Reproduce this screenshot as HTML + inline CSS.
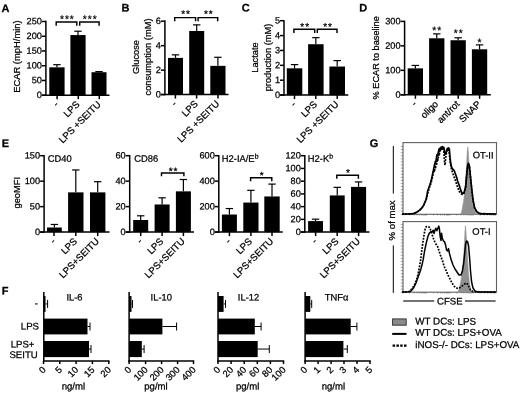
<!DOCTYPE html>
<html><head><meta charset="utf-8"><title>Figure</title>
<style>
html,body{margin:0;padding:0;background:#fff;}
body{width:520px;height:393px;overflow:hidden;}
svg{display:block;filter:grayscale(1);font-family:"Liberation Sans",sans-serif;fill:#000;}
text{stroke:#000;stroke-width:0.25px;}
</style></head><body>
<svg width="520" height="393" viewBox="0 0 520 393">
<rect x="0" y="0" width="520" height="393" fill="#fff"/>
<text x="1.5" y="12" font-size="11" text-anchor="start" transform="translate(1.5 12) rotate(0.05) scale(1 1) translate(-1.5 -12)" font-weight="bold">A</text>
<text x="121.5" y="11.5" font-size="11" text-anchor="start" transform="translate(121.5 11.5) rotate(0.05) scale(1 1) translate(-121.5 -11.5)" font-weight="bold">B</text>
<text x="241.8" y="11.5" font-size="11" text-anchor="start" transform="translate(241.8 11.5) rotate(0.05) scale(1 1) translate(-241.8 -11.5)" font-weight="bold">C</text>
<text x="359.3" y="11.5" font-size="11" text-anchor="start" transform="translate(359.3 11.5) rotate(0.05) scale(1 1) translate(-359.3 -11.5)" font-weight="bold">D</text>
<text x="1.8" y="146.9" font-size="11" text-anchor="start" transform="translate(1.8 146.9) rotate(0.05) scale(1 1) translate(-1.8 -146.9)" font-weight="bold">E</text>
<text x="1.8" y="294.6" font-size="11" text-anchor="start" transform="translate(1.8 294.6) rotate(0.05) scale(1 1) translate(-1.8 -294.6)" font-weight="bold">F</text>
<text x="369.7" y="146.9" font-size="11" text-anchor="start" transform="translate(369.7 146.9) rotate(0.05) scale(1 1) translate(-369.7 -146.9)" font-weight="bold">G</text>
<rect x="49.3" y="67.3414" width="15.3" height="27.8586" fill="#000"/>
<line x1="56.95" y1="67.3414" x2="56.95" y2="64.6882" stroke="#000" stroke-width="1.2"/>
<line x1="53.25" y1="64.6882" x2="60.65" y2="64.6882" stroke="#000" stroke-width="1.2"/>
<rect x="70.4" y="35.0608" width="15.2" height="60.1392" fill="#000"/>
<line x1="78" y1="35.0608" x2="78" y2="31.2284" stroke="#000" stroke-width="1.2"/>
<line x1="74.3" y1="31.2284" x2="81.7" y2="31.2284" stroke="#000" stroke-width="1.2"/>
<rect x="91.5" y="72.2056" width="15" height="22.9944" fill="#000"/>
<line x1="99" y1="72.2056" x2="99" y2="71.616" stroke="#000" stroke-width="1.2"/>
<line x1="95.3" y1="71.616" x2="102.7" y2="71.616" stroke="#000" stroke-width="1.2"/>
<line x1="45.9" y1="20.75" x2="45.9" y2="95.95" stroke="#000" stroke-width="1.5"/>
<line x1="41.9" y1="95.2" x2="109.5" y2="95.2" stroke="#000" stroke-width="1.5"/>
<line x1="41.9" y1="21.5" x2="45.9" y2="21.5" stroke="#000" stroke-width="1.5"/>
<text x="41.9" y="24.352" font-size="9.2" text-anchor="end" transform="translate(41.9 24.352) rotate(0.05) scale(1 1) translate(-41.9 -24.352)">250</text>
<line x1="41.9" y1="36.24" x2="45.9" y2="36.24" stroke="#000" stroke-width="1.5"/>
<text x="41.9" y="39.092" font-size="9.2" text-anchor="end" transform="translate(41.9 39.092) rotate(0.05) scale(1 1) translate(-41.9 -39.092)">200</text>
<line x1="41.9" y1="50.98" x2="45.9" y2="50.98" stroke="#000" stroke-width="1.5"/>
<text x="41.9" y="53.832" font-size="9.2" text-anchor="end" transform="translate(41.9 53.832) rotate(0.05) scale(1 1) translate(-41.9 -53.832)">150</text>
<line x1="41.9" y1="65.72" x2="45.9" y2="65.72" stroke="#000" stroke-width="1.5"/>
<text x="41.9" y="68.572" font-size="9.2" text-anchor="end" transform="translate(41.9 68.572) rotate(0.05) scale(1 1) translate(-41.9 -68.572)">100</text>
<line x1="41.9" y1="80.46" x2="45.9" y2="80.46" stroke="#000" stroke-width="1.5"/>
<text x="41.9" y="83.312" font-size="9.2" text-anchor="end" transform="translate(41.9 83.312) rotate(0.05) scale(1 1) translate(-41.9 -83.312)">50</text>
<line x1="41.9" y1="95.2" x2="45.9" y2="95.2" stroke="#000" stroke-width="1.5"/>
<text x="41.9" y="98.052" font-size="9.2" text-anchor="end" transform="translate(41.9 98.052) rotate(0.05) scale(1 1) translate(-41.9 -98.052)">0</text>
<line x1="57.1" y1="95.2" x2="57.1" y2="99.2" stroke="#000" stroke-width="1.5"/>
<line x1="78.3" y1="95.2" x2="78.3" y2="99.2" stroke="#000" stroke-width="1.5"/>
<line x1="99.3" y1="95.2" x2="99.3" y2="99.2" stroke="#000" stroke-width="1.5"/>
<text x="59.1" y="105" font-size="9.6" text-anchor="end" transform="translate(59.1 105) rotate(-45) scale(1 1) translate(-59.1 -105)">-</text>
<text x="80.3" y="105" font-size="9.6" text-anchor="end" transform="translate(80.3 105) rotate(-45) scale(1 1) translate(-80.3 -105)">LPS</text>
<text x="101.3" y="105" font-size="9.6" text-anchor="end" transform="translate(101.3 105) rotate(-45) scale(1 1) translate(-101.3 -105)">LPS +SEITU</text>
<polyline points="56.2,25.8 56.2,22 76.8,22 76.8,25.8" fill="none" stroke="#000" stroke-width="1.45"/>
<text x="67.4" y="22.4" font-size="10.2" text-anchor="middle" transform="translate(67.4 22.4) rotate(0.05) scale(1 1) translate(-67.4 -22.4)" letter-spacing="1.0">***</text>
<polyline points="79.7,25.8 79.7,22 99.1,22 99.1,25.8" fill="none" stroke="#000" stroke-width="1.45"/>
<text x="90.3" y="22.4" font-size="10.2" text-anchor="middle" transform="translate(90.3 22.4) rotate(0.05) scale(1 1) translate(-90.3 -22.4)" letter-spacing="1.0">***</text>
<text x="20.3" y="56.6" font-size="9.4" text-anchor="middle" transform="translate(20.3 56.6) rotate(-90) scale(1 1) translate(-20.3 -56.6)">ECAR (mpH/min)</text>
<rect x="168" y="57.9" width="15" height="36.7" fill="#000"/>
<line x1="175.5" y1="57.9" x2="175.5" y2="54.8417" stroke="#000" stroke-width="1.2"/>
<line x1="171.8" y1="54.8417" x2="179.2" y2="54.8417" stroke="#000" stroke-width="1.2"/>
<rect x="189.2" y="30.9867" width="15" height="63.6133" fill="#000"/>
<line x1="196.7" y1="30.9867" x2="196.7" y2="24.87" stroke="#000" stroke-width="1.2"/>
<line x1="193" y1="24.87" x2="200.4" y2="24.87" stroke="#000" stroke-width="1.2"/>
<rect x="210.3" y="65.8517" width="15.2" height="28.7483" fill="#000"/>
<line x1="217.9" y1="65.8517" x2="217.9" y2="57.2883" stroke="#000" stroke-width="1.2"/>
<line x1="214.2" y1="57.2883" x2="221.6" y2="57.2883" stroke="#000" stroke-width="1.2"/>
<line x1="164.9" y1="20.25" x2="164.9" y2="95.35" stroke="#000" stroke-width="1.5"/>
<line x1="160.9" y1="94.6" x2="228.5" y2="94.6" stroke="#000" stroke-width="1.5"/>
<line x1="160.9" y1="21.2" x2="164.9" y2="21.2" stroke="#000" stroke-width="1.5"/>
<text x="160.9" y="24.052" font-size="9.2" text-anchor="end" transform="translate(160.9 24.052) rotate(0.05) scale(1 1) translate(-160.9 -24.052)">6</text>
<line x1="160.9" y1="45.6667" x2="164.9" y2="45.6667" stroke="#000" stroke-width="1.5"/>
<text x="160.9" y="48.5187" font-size="9.2" text-anchor="end" transform="translate(160.9 48.5187) rotate(0.05) scale(1 1) translate(-160.9 -48.5187)">4</text>
<line x1="160.9" y1="70.1333" x2="164.9" y2="70.1333" stroke="#000" stroke-width="1.5"/>
<text x="160.9" y="72.9853" font-size="9.2" text-anchor="end" transform="translate(160.9 72.9853) rotate(0.05) scale(1 1) translate(-160.9 -72.9853)">2</text>
<line x1="160.9" y1="94.6" x2="164.9" y2="94.6" stroke="#000" stroke-width="1.5"/>
<text x="160.9" y="97.452" font-size="9.2" text-anchor="end" transform="translate(160.9 97.452) rotate(0.05) scale(1 1) translate(-160.9 -97.452)">0</text>
<line x1="175.4" y1="94.6" x2="175.4" y2="98.6" stroke="#000" stroke-width="1.5"/>
<line x1="196.6" y1="94.6" x2="196.6" y2="98.6" stroke="#000" stroke-width="1.5"/>
<line x1="218" y1="94.6" x2="218" y2="98.6" stroke="#000" stroke-width="1.5"/>
<text x="177.4" y="104.4" font-size="9.6" text-anchor="end" transform="translate(177.4 104.4) rotate(-45) scale(1 1) translate(-177.4 -104.4)">-</text>
<text x="198.6" y="104.4" font-size="9.6" text-anchor="end" transform="translate(198.6 104.4) rotate(-45) scale(1 1) translate(-198.6 -104.4)">LPS</text>
<text x="220" y="104.4" font-size="9.6" text-anchor="end" transform="translate(220 104.4) rotate(-45) scale(1 1) translate(-220 -104.4)">LPS +SEITU</text>
<polyline points="174.7,21.2 174.7,17.6 195.6,17.6 195.6,21.2" fill="none" stroke="#000" stroke-width="1.45"/>
<text x="186.05" y="17.3" font-size="10" text-anchor="middle" transform="translate(186.05 17.3) rotate(0.05) scale(1 1) translate(-186.05 -17.3)" letter-spacing="1.0">**</text>
<polyline points="198.1,21.2 198.1,17.6 217.7,17.6 217.7,21.2" fill="none" stroke="#000" stroke-width="1.45"/>
<text x="208.8" y="17.3" font-size="10" text-anchor="middle" transform="translate(208.8 17.3) rotate(0.05) scale(1 1) translate(-208.8 -17.3)" letter-spacing="1.0">**</text>
<text x="138.8" y="57" font-size="9.3" text-anchor="middle" transform="translate(138.8 57) rotate(-90) scale(1 1) translate(-138.8 -57)">Glucose</text>
<text x="151.4" y="57" font-size="9.3" text-anchor="middle" transform="translate(151.4 57) rotate(-90) scale(1 1) translate(-151.4 -57)">consumption (mM)</text>
<rect x="286.8" y="68.316" width="15.5" height="26.784" fill="#000"/>
<line x1="294.55" y1="68.316" x2="294.55" y2="64.596" stroke="#000" stroke-width="1.2"/>
<line x1="290.85" y1="64.596" x2="298.25" y2="64.596" stroke="#000" stroke-width="1.2"/>
<rect x="308.1" y="44.2104" width="15.5" height="50.8896" fill="#000"/>
<line x1="315.85" y1="44.2104" x2="315.85" y2="37.6632" stroke="#000" stroke-width="1.2"/>
<line x1="312.15" y1="37.6632" x2="319.55" y2="37.6632" stroke="#000" stroke-width="1.2"/>
<rect x="329.4" y="66.5304" width="15.6" height="28.5696" fill="#000"/>
<line x1="337.2" y1="66.5304" x2="337.2" y2="60.5784" stroke="#000" stroke-width="1.2"/>
<line x1="333.5" y1="60.5784" x2="340.9" y2="60.5784" stroke="#000" stroke-width="1.2"/>
<line x1="284" y1="20.15" x2="284" y2="95.85" stroke="#000" stroke-width="1.5"/>
<line x1="280" y1="95.1" x2="348.3" y2="95.1" stroke="#000" stroke-width="1.5"/>
<line x1="280" y1="20.7" x2="284" y2="20.7" stroke="#000" stroke-width="1.5"/>
<text x="280" y="23.552" font-size="9.2" text-anchor="end" transform="translate(280 23.552) rotate(0.05) scale(1 1) translate(-280 -23.552)">5</text>
<line x1="280" y1="35.58" x2="284" y2="35.58" stroke="#000" stroke-width="1.5"/>
<text x="280" y="38.432" font-size="9.2" text-anchor="end" transform="translate(280 38.432) rotate(0.05) scale(1 1) translate(-280 -38.432)">4</text>
<line x1="280" y1="50.46" x2="284" y2="50.46" stroke="#000" stroke-width="1.5"/>
<text x="280" y="53.312" font-size="9.2" text-anchor="end" transform="translate(280 53.312) rotate(0.05) scale(1 1) translate(-280 -53.312)">3</text>
<line x1="280" y1="65.34" x2="284" y2="65.34" stroke="#000" stroke-width="1.5"/>
<text x="280" y="68.192" font-size="9.2" text-anchor="end" transform="translate(280 68.192) rotate(0.05) scale(1 1) translate(-280 -68.192)">2</text>
<line x1="280" y1="80.22" x2="284" y2="80.22" stroke="#000" stroke-width="1.5"/>
<text x="280" y="83.072" font-size="9.2" text-anchor="end" transform="translate(280 83.072) rotate(0.05) scale(1 1) translate(-280 -83.072)">1</text>
<line x1="280" y1="95.1" x2="284" y2="95.1" stroke="#000" stroke-width="1.5"/>
<text x="280" y="97.952" font-size="9.2" text-anchor="end" transform="translate(280 97.952) rotate(0.05) scale(1 1) translate(-280 -97.952)">0</text>
<line x1="294.5" y1="95.1" x2="294.5" y2="99.1" stroke="#000" stroke-width="1.5"/>
<line x1="315.8" y1="95.1" x2="315.8" y2="99.1" stroke="#000" stroke-width="1.5"/>
<line x1="337.2" y1="95.1" x2="337.2" y2="99.1" stroke="#000" stroke-width="1.5"/>
<text x="296.5" y="104.9" font-size="9.6" text-anchor="end" transform="translate(296.5 104.9) rotate(-45) scale(1 1) translate(-296.5 -104.9)">-</text>
<text x="317.8" y="104.9" font-size="9.6" text-anchor="end" transform="translate(317.8 104.9) rotate(-45) scale(1 1) translate(-317.8 -104.9)">LPS</text>
<text x="339.2" y="104.9" font-size="9.6" text-anchor="end" transform="translate(339.2 104.9) rotate(-45) scale(1 1) translate(-339.2 -104.9)">LPS +SEITU</text>
<polyline points="293.9,33 293.9,29.3 314.7,29.3 314.7,33" fill="none" stroke="#000" stroke-width="1.45"/>
<text x="305.2" y="30.1" font-size="10" text-anchor="middle" transform="translate(305.2 30.1) rotate(0.05) scale(1 1) translate(-305.2 -30.1)" letter-spacing="1.0">**</text>
<polyline points="317.3,33 317.3,29.3 337,29.3 337,33" fill="none" stroke="#000" stroke-width="1.45"/>
<text x="328.05" y="30.1" font-size="10" text-anchor="middle" transform="translate(328.05 30.1) rotate(0.05) scale(1 1) translate(-328.05 -30.1)" letter-spacing="1.0">**</text>
<text x="258.4" y="57.5" font-size="9.3" text-anchor="middle" transform="translate(258.4 57.5) rotate(-90) scale(1 1) translate(-258.4 -57.5)">Lactate</text>
<text x="270.6" y="57.5" font-size="9.3" text-anchor="middle" transform="translate(270.6 57.5) rotate(-90) scale(1 1) translate(-270.6 -57.5)">production (mM)</text>
<rect x="407.7" y="68.376" width="15.3" height="26.424" fill="#000"/>
<line x1="415.35" y1="68.376" x2="415.35" y2="65.44" stroke="#000" stroke-width="1.2"/>
<line x1="411.65" y1="65.44" x2="419.05" y2="65.44" stroke="#000" stroke-width="1.2"/>
<rect x="429.1" y="38.282" width="15.3" height="56.518" fill="#000"/>
<line x1="436.75" y1="38.282" x2="436.75" y2="33.878" stroke="#000" stroke-width="1.2"/>
<line x1="433.05" y1="33.878" x2="440.45" y2="33.878" stroke="#000" stroke-width="1.2"/>
<rect x="450.5" y="40.2393" width="15.3" height="54.5607" fill="#000"/>
<line x1="458.15" y1="40.2393" x2="458.15" y2="37.7927" stroke="#000" stroke-width="1.2"/>
<line x1="454.45" y1="37.7927" x2="461.85" y2="37.7927" stroke="#000" stroke-width="1.2"/>
<rect x="471.9" y="49.292" width="15.3" height="45.508" fill="#000"/>
<line x1="479.55" y1="49.292" x2="479.55" y2="44.888" stroke="#000" stroke-width="1.2"/>
<line x1="475.85" y1="44.888" x2="483.25" y2="44.888" stroke="#000" stroke-width="1.2"/>
<line x1="404.6" y1="20.65" x2="404.6" y2="95.55" stroke="#000" stroke-width="1.5"/>
<line x1="400.6" y1="94.8" x2="490.8" y2="94.8" stroke="#000" stroke-width="1.5"/>
<line x1="400.6" y1="21.4" x2="404.6" y2="21.4" stroke="#000" stroke-width="1.5"/>
<text x="400.6" y="24.252" font-size="9.2" text-anchor="end" transform="translate(400.6 24.252) rotate(0.05) scale(1 1) translate(-400.6 -24.252)">300</text>
<line x1="400.6" y1="45.8667" x2="404.6" y2="45.8667" stroke="#000" stroke-width="1.5"/>
<text x="400.6" y="48.7187" font-size="9.2" text-anchor="end" transform="translate(400.6 48.7187) rotate(0.05) scale(1 1) translate(-400.6 -48.7187)">200</text>
<line x1="400.6" y1="70.3333" x2="404.6" y2="70.3333" stroke="#000" stroke-width="1.5"/>
<text x="400.6" y="73.1853" font-size="9.2" text-anchor="end" transform="translate(400.6 73.1853) rotate(0.05) scale(1 1) translate(-400.6 -73.1853)">100</text>
<line x1="400.6" y1="94.8" x2="404.6" y2="94.8" stroke="#000" stroke-width="1.5"/>
<text x="400.6" y="97.652" font-size="9.2" text-anchor="end" transform="translate(400.6 97.652) rotate(0.05) scale(1 1) translate(-400.6 -97.652)">0</text>
<line x1="415.4" y1="94.8" x2="415.4" y2="98.8" stroke="#000" stroke-width="1.5"/>
<line x1="436.8" y1="94.8" x2="436.8" y2="98.8" stroke="#000" stroke-width="1.5"/>
<line x1="458.2" y1="94.8" x2="458.2" y2="98.8" stroke="#000" stroke-width="1.5"/>
<line x1="479.6" y1="94.8" x2="479.6" y2="98.8" stroke="#000" stroke-width="1.5"/>
<text x="417.4" y="104.6" font-size="9.6" text-anchor="end" transform="translate(417.4 104.6) rotate(-45) scale(1 1) translate(-417.4 -104.6)">-</text>
<text x="438.8" y="104.6" font-size="9.6" text-anchor="end" transform="translate(438.8 104.6) rotate(-45) scale(1 1) translate(-438.8 -104.6)">oligo</text>
<text x="460.2" y="104.6" font-size="9.6" text-anchor="end" transform="translate(460.2 104.6) rotate(-45) scale(1 1) translate(-460.2 -104.6)">ant/rot</text>
<text x="481.6" y="104.6" font-size="9.6" text-anchor="end" transform="translate(481.6 104.6) rotate(-45) scale(1 1) translate(-481.6 -104.6)">SNAP</text>
<text x="437.3" y="33.8" font-size="10.2" text-anchor="middle" transform="translate(437.3 33.8) rotate(0.05) scale(1 1) translate(-437.3 -33.8)" letter-spacing="1.0">**</text>
<text x="458.7" y="36.6" font-size="10.2" text-anchor="middle" transform="translate(458.7 36.6) rotate(0.05) scale(1 1) translate(-458.7 -36.6)" letter-spacing="1.0">**</text>
<text x="479.6" y="45.8" font-size="10.2" text-anchor="middle" transform="translate(479.6 45.8) rotate(0.05) scale(1 1) translate(-479.6 -45.8)">*</text>
<text x="379.3" y="57.8" font-size="9.2" text-anchor="middle" transform="translate(379.3 57.8) rotate(-90) scale(1 1) translate(-379.3 -57.8)">% ECAR to baseline</text>
<rect x="47" y="227.516" width="14.8" height="4.584" fill="#000"/>
<line x1="54.4" y1="227.516" x2="54.4" y2="224.46" stroke="#000" stroke-width="1.2"/>
<line x1="50.7" y1="224.46" x2="58.1" y2="224.46" stroke="#000" stroke-width="1.2"/>
<rect x="68.1" y="192.372" width="15.4" height="39.728" fill="#000"/>
<line x1="75.8" y1="192.372" x2="75.8" y2="169.961" stroke="#000" stroke-width="1.2"/>
<line x1="72.1" y1="169.961" x2="79.5" y2="169.961" stroke="#000" stroke-width="1.2"/>
<rect x="90" y="192.372" width="15.4" height="39.728" fill="#000"/>
<line x1="97.7" y1="192.372" x2="97.7" y2="181.676" stroke="#000" stroke-width="1.2"/>
<line x1="94" y1="181.676" x2="101.4" y2="181.676" stroke="#000" stroke-width="1.2"/>
<line x1="44.1" y1="154.95" x2="44.1" y2="232.85" stroke="#000" stroke-width="1.5"/>
<line x1="40.1" y1="232.1" x2="109.5" y2="232.1" stroke="#000" stroke-width="1.5"/>
<line x1="40.1" y1="155.7" x2="44.1" y2="155.7" stroke="#000" stroke-width="1.5"/>
<text x="40.1" y="158.552" font-size="9.2" text-anchor="end" transform="translate(40.1 158.552) rotate(0.05) scale(1 1) translate(-40.1 -158.552)">150</text>
<line x1="40.1" y1="181.167" x2="44.1" y2="181.167" stroke="#000" stroke-width="1.5"/>
<text x="40.1" y="184.019" font-size="9.2" text-anchor="end" transform="translate(40.1 184.019) rotate(0.05) scale(1 1) translate(-40.1 -184.019)">100</text>
<line x1="40.1" y1="206.633" x2="44.1" y2="206.633" stroke="#000" stroke-width="1.5"/>
<text x="40.1" y="209.485" font-size="9.2" text-anchor="end" transform="translate(40.1 209.485) rotate(0.05) scale(1 1) translate(-40.1 -209.485)">50</text>
<line x1="40.1" y1="232.1" x2="44.1" y2="232.1" stroke="#000" stroke-width="1.5"/>
<text x="40.1" y="234.952" font-size="9.2" text-anchor="end" transform="translate(40.1 234.952) rotate(0.05) scale(1 1) translate(-40.1 -234.952)">0</text>
<line x1="54" y1="232.1" x2="54" y2="236.1" stroke="#000" stroke-width="1.5"/>
<line x1="75.8" y1="232.1" x2="75.8" y2="236.1" stroke="#000" stroke-width="1.5"/>
<line x1="97.7" y1="232.1" x2="97.7" y2="236.1" stroke="#000" stroke-width="1.5"/>
<text x="56" y="241.9" font-size="9.6" text-anchor="end" transform="translate(56 241.9) rotate(-45) scale(1 1) translate(-56 -241.9)">-</text>
<text x="77.8" y="241.9" font-size="9.6" text-anchor="end" transform="translate(77.8 241.9) rotate(-45) scale(1 1) translate(-77.8 -241.9)">LPS</text>
<text x="99.7" y="241.9" font-size="9.6" text-anchor="end" transform="translate(99.7 241.9) rotate(-45) scale(1 1) translate(-99.7 -241.9)">LPS+SEITU</text>
<text x="47.8" y="161.8" font-size="9.4" text-anchor="start" transform="translate(47.8 161.8) rotate(0.05) scale(1 1) translate(-47.8 -161.8)">CD40</text>
<text x="20.2" y="192.7" font-size="9.3" text-anchor="middle" transform="translate(20.2 192.7) rotate(-90) scale(1 1) translate(-20.2 -192.7)">geoMFI</text>
<rect x="133.2" y="220.003" width="15" height="12.0967" fill="#000"/>
<line x1="140.7" y1="220.003" x2="140.7" y2="215.801" stroke="#000" stroke-width="1.2"/>
<line x1="137" y1="215.801" x2="144.4" y2="215.801" stroke="#000" stroke-width="1.2"/>
<rect x="154.6" y="204.469" width="15" height="27.6313" fill="#000"/>
<line x1="162.1" y1="204.469" x2="162.1" y2="197.847" stroke="#000" stroke-width="1.2"/>
<line x1="158.4" y1="197.847" x2="165.8" y2="197.847" stroke="#000" stroke-width="1.2"/>
<rect x="175.9" y="191.353" width="15" height="40.7467" fill="#000"/>
<line x1="183.4" y1="191.353" x2="183.4" y2="179.511" stroke="#000" stroke-width="1.2"/>
<line x1="179.7" y1="179.511" x2="187.1" y2="179.511" stroke="#000" stroke-width="1.2"/>
<line x1="129.7" y1="154.95" x2="129.7" y2="232.85" stroke="#000" stroke-width="1.5"/>
<line x1="125.7" y1="232.1" x2="194" y2="232.1" stroke="#000" stroke-width="1.5"/>
<line x1="125.7" y1="155.7" x2="129.7" y2="155.7" stroke="#000" stroke-width="1.5"/>
<text x="125.7" y="158.552" font-size="9.2" text-anchor="end" transform="translate(125.7 158.552) rotate(0.05) scale(1 1) translate(-125.7 -158.552)">60</text>
<line x1="125.7" y1="181.167" x2="129.7" y2="181.167" stroke="#000" stroke-width="1.5"/>
<text x="125.7" y="184.019" font-size="9.2" text-anchor="end" transform="translate(125.7 184.019) rotate(0.05) scale(1 1) translate(-125.7 -184.019)">40</text>
<line x1="125.7" y1="206.633" x2="129.7" y2="206.633" stroke="#000" stroke-width="1.5"/>
<text x="125.7" y="209.485" font-size="9.2" text-anchor="end" transform="translate(125.7 209.485) rotate(0.05) scale(1 1) translate(-125.7 -209.485)">20</text>
<line x1="125.7" y1="232.1" x2="129.7" y2="232.1" stroke="#000" stroke-width="1.5"/>
<text x="125.7" y="234.952" font-size="9.2" text-anchor="end" transform="translate(125.7 234.952) rotate(0.05) scale(1 1) translate(-125.7 -234.952)">0</text>
<line x1="140.7" y1="232.1" x2="140.7" y2="236.1" stroke="#000" stroke-width="1.5"/>
<line x1="162.1" y1="232.1" x2="162.1" y2="236.1" stroke="#000" stroke-width="1.5"/>
<line x1="183.4" y1="232.1" x2="183.4" y2="236.1" stroke="#000" stroke-width="1.5"/>
<text x="142.7" y="241.9" font-size="9.6" text-anchor="end" transform="translate(142.7 241.9) rotate(-45) scale(1 1) translate(-142.7 -241.9)">-</text>
<text x="164.1" y="241.9" font-size="9.6" text-anchor="end" transform="translate(164.1 241.9) rotate(-45) scale(1 1) translate(-164.1 -241.9)">LPS</text>
<text x="185.4" y="241.9" font-size="9.6" text-anchor="end" transform="translate(185.4 241.9) rotate(-45) scale(1 1) translate(-185.4 -241.9)">LPS+SEITU</text>
<text x="134.2" y="161.8" font-size="9.4" text-anchor="start" transform="translate(134.2 161.8) rotate(0.05) scale(1 1) translate(-134.2 -161.8)">CD86</text>
<polyline points="161.5,176.3 161.5,173 183.9,173 183.9,176.3" fill="none" stroke="#000" stroke-width="1.45"/>
<text x="173.6" y="174.5" font-size="10" text-anchor="middle" transform="translate(173.6 174.5) rotate(0.05) scale(1 1) translate(-173.6 -174.5)" letter-spacing="1.0">**</text>
<rect x="221.9" y="214.528" width="15" height="17.572" fill="#000"/>
<line x1="229.4" y1="214.528" x2="229.4" y2="208.543" stroke="#000" stroke-width="1.2"/>
<line x1="225.7" y1="208.543" x2="233.1" y2="208.543" stroke="#000" stroke-width="1.2"/>
<rect x="243.3" y="202.559" width="15.2" height="29.5413" fill="#000"/>
<line x1="250.9" y1="202.559" x2="250.9" y2="190.335" stroke="#000" stroke-width="1.2"/>
<line x1="247.2" y1="190.335" x2="254.6" y2="190.335" stroke="#000" stroke-width="1.2"/>
<rect x="264.3" y="196.447" width="15.4" height="35.6533" fill="#000"/>
<line x1="272" y1="196.447" x2="272" y2="184.095" stroke="#000" stroke-width="1.2"/>
<line x1="268.3" y1="184.095" x2="275.7" y2="184.095" stroke="#000" stroke-width="1.2"/>
<line x1="218.8" y1="154.95" x2="218.8" y2="232.85" stroke="#000" stroke-width="1.5"/>
<line x1="214.8" y1="232.1" x2="282.8" y2="232.1" stroke="#000" stroke-width="1.5"/>
<line x1="214.8" y1="155.7" x2="218.8" y2="155.7" stroke="#000" stroke-width="1.5"/>
<text x="214.8" y="158.552" font-size="9.2" text-anchor="end" transform="translate(214.8 158.552) rotate(0.05) scale(1 1) translate(-214.8 -158.552)">600</text>
<line x1="214.8" y1="181.167" x2="218.8" y2="181.167" stroke="#000" stroke-width="1.5"/>
<text x="214.8" y="184.019" font-size="9.2" text-anchor="end" transform="translate(214.8 184.019) rotate(0.05) scale(1 1) translate(-214.8 -184.019)">400</text>
<line x1="214.8" y1="206.633" x2="218.8" y2="206.633" stroke="#000" stroke-width="1.5"/>
<text x="214.8" y="209.485" font-size="9.2" text-anchor="end" transform="translate(214.8 209.485) rotate(0.05) scale(1 1) translate(-214.8 -209.485)">200</text>
<line x1="214.8" y1="232.1" x2="218.8" y2="232.1" stroke="#000" stroke-width="1.5"/>
<text x="214.8" y="234.952" font-size="9.2" text-anchor="end" transform="translate(214.8 234.952) rotate(0.05) scale(1 1) translate(-214.8 -234.952)">0</text>
<line x1="229.4" y1="232.1" x2="229.4" y2="236.1" stroke="#000" stroke-width="1.5"/>
<line x1="250.9" y1="232.1" x2="250.9" y2="236.1" stroke="#000" stroke-width="1.5"/>
<line x1="272" y1="232.1" x2="272" y2="236.1" stroke="#000" stroke-width="1.5"/>
<text x="231.4" y="241.9" font-size="9.6" text-anchor="end" transform="translate(231.4 241.9) rotate(-45) scale(1 1) translate(-231.4 -241.9)">-</text>
<text x="252.9" y="241.9" font-size="9.6" text-anchor="end" transform="translate(252.9 241.9) rotate(-45) scale(1 1) translate(-252.9 -241.9)">LPS</text>
<text x="274" y="241.9" font-size="9.6" text-anchor="end" transform="translate(274 241.9) rotate(-45) scale(1 1) translate(-274 -241.9)">LPS+SEITU</text>
<text x="221.8" y="161.8" font-size="9.4" text-anchor="start" transform="translate(221.8 161.8) rotate(0.05) scale(1 1) translate(-221.8 -161.8)">H2-IA/E<tspan dy="-3.2" font-size="6.8">b</tspan></text>
<polyline points="250.6,181.2 250.6,177.8 271.8,177.8 271.8,181.2" fill="none" stroke="#000" stroke-width="1.45"/>
<text x="262.1" y="178.7" font-size="10" text-anchor="middle" transform="translate(262.1 178.7) rotate(0.05) scale(1 1) translate(-262.1 -178.7)" letter-spacing="1.0">*</text>
<rect x="308.1" y="221.086" width="14.9" height="11.0143" fill="#000"/>
<line x1="315.55" y1="221.086" x2="315.55" y2="219.176" stroke="#000" stroke-width="1.2"/>
<line x1="311.85" y1="219.176" x2="319.25" y2="219.176" stroke="#000" stroke-width="1.2"/>
<rect x="329.8" y="195.428" width="14.9" height="36.672" fill="#000"/>
<line x1="337.25" y1="195.428" x2="337.25" y2="187.342" stroke="#000" stroke-width="1.2"/>
<line x1="333.55" y1="187.342" x2="340.95" y2="187.342" stroke="#000" stroke-width="1.2"/>
<rect x="351" y="186.897" width="15.1" height="45.2033" fill="#000"/>
<line x1="358.55" y1="186.897" x2="358.55" y2="181.931" stroke="#000" stroke-width="1.2"/>
<line x1="354.85" y1="181.931" x2="362.25" y2="181.931" stroke="#000" stroke-width="1.2"/>
<line x1="304.8" y1="154.95" x2="304.8" y2="232.85" stroke="#000" stroke-width="1.5"/>
<line x1="300.8" y1="232.1" x2="369.5" y2="232.1" stroke="#000" stroke-width="1.5"/>
<line x1="300.8" y1="155.7" x2="304.8" y2="155.7" stroke="#000" stroke-width="1.5"/>
<text x="300.8" y="158.552" font-size="9.2" text-anchor="end" transform="translate(300.8 158.552) rotate(0.05) scale(1 1) translate(-300.8 -158.552)">120</text>
<line x1="300.8" y1="168.433" x2="304.8" y2="168.433" stroke="#000" stroke-width="1.5"/>
<text x="300.8" y="171.285" font-size="9.2" text-anchor="end" transform="translate(300.8 171.285) rotate(0.05) scale(1 1) translate(-300.8 -171.285)">100</text>
<line x1="300.8" y1="181.167" x2="304.8" y2="181.167" stroke="#000" stroke-width="1.5"/>
<text x="300.8" y="184.019" font-size="9.2" text-anchor="end" transform="translate(300.8 184.019) rotate(0.05) scale(1 1) translate(-300.8 -184.019)">80</text>
<line x1="300.8" y1="193.9" x2="304.8" y2="193.9" stroke="#000" stroke-width="1.5"/>
<text x="300.8" y="196.752" font-size="9.2" text-anchor="end" transform="translate(300.8 196.752) rotate(0.05) scale(1 1) translate(-300.8 -196.752)">60</text>
<line x1="300.8" y1="206.633" x2="304.8" y2="206.633" stroke="#000" stroke-width="1.5"/>
<text x="300.8" y="209.485" font-size="9.2" text-anchor="end" transform="translate(300.8 209.485) rotate(0.05) scale(1 1) translate(-300.8 -209.485)">40</text>
<line x1="300.8" y1="219.367" x2="304.8" y2="219.367" stroke="#000" stroke-width="1.5"/>
<text x="300.8" y="222.219" font-size="9.2" text-anchor="end" transform="translate(300.8 222.219) rotate(0.05) scale(1 1) translate(-300.8 -222.219)">20</text>
<line x1="300.8" y1="232.1" x2="304.8" y2="232.1" stroke="#000" stroke-width="1.5"/>
<text x="300.8" y="234.952" font-size="9.2" text-anchor="end" transform="translate(300.8 234.952) rotate(0.05) scale(1 1) translate(-300.8 -234.952)">0</text>
<line x1="315.6" y1="232.1" x2="315.6" y2="236.1" stroke="#000" stroke-width="1.5"/>
<line x1="337.2" y1="232.1" x2="337.2" y2="236.1" stroke="#000" stroke-width="1.5"/>
<line x1="358.6" y1="232.1" x2="358.6" y2="236.1" stroke="#000" stroke-width="1.5"/>
<text x="317.6" y="241.9" font-size="9.6" text-anchor="end" transform="translate(317.6 241.9) rotate(-45) scale(1 1) translate(-317.6 -241.9)">-</text>
<text x="339.2" y="241.9" font-size="9.6" text-anchor="end" transform="translate(339.2 241.9) rotate(-45) scale(1 1) translate(-339.2 -241.9)">LPS</text>
<text x="360.6" y="241.9" font-size="9.6" text-anchor="end" transform="translate(360.6 241.9) rotate(-45) scale(1 1) translate(-360.6 -241.9)">LPS+SEITU</text>
<text x="307.8" y="161.8" font-size="9.4" text-anchor="start" transform="translate(307.8 161.8) rotate(0.05) scale(1 1) translate(-307.8 -161.8)">H2-K<tspan dy="-3.2" font-size="6.8">b</tspan></text>
<polyline points="336.8,178.8 336.8,175.2 358.4,175.2 358.4,178.8" fill="none" stroke="#000" stroke-width="1.45"/>
<text x="348.5" y="175.9" font-size="10" text-anchor="middle" transform="translate(348.5 175.9) rotate(0.05) scale(1 1) translate(-348.5 -175.9)" letter-spacing="1.0">*</text>
<rect x="43.8" y="296" width="1.7" height="15.9" fill="#000"/>
<line x1="45.5" y1="303.95" x2="47.6" y2="303.95" stroke="#000" stroke-width="1"/>
<line x1="47.6" y1="299.95" x2="47.6" y2="307.95" stroke="#000" stroke-width="1"/>
<rect x="43.8" y="318.6" width="43.7" height="15.8" fill="#000"/>
<line x1="87.5" y1="326.5" x2="90" y2="326.5" stroke="#000" stroke-width="1"/>
<line x1="90" y1="322.5" x2="90" y2="330.5" stroke="#000" stroke-width="1"/>
<rect x="43.8" y="341" width="45.2" height="16.1" fill="#000"/>
<line x1="89" y1="349.05" x2="91" y2="349.05" stroke="#000" stroke-width="1"/>
<line x1="91" y1="345.05" x2="91" y2="353.05" stroke="#000" stroke-width="1"/>
<line x1="43.8" y1="292" x2="43.8" y2="361.85" stroke="#000" stroke-width="1.5"/>
<line x1="43.05" y1="361.1" x2="109.55" y2="361.1" stroke="#000" stroke-width="1.5"/>
<line x1="43.5" y1="361.1" x2="43.5" y2="364.1" stroke="#000" stroke-width="1.5"/>
<text x="46.3" y="370.4" font-size="9.3" text-anchor="end" transform="translate(46.3 370.4) rotate(-45) scale(1 1) translate(-46.3 -370.4)">0</text>
<line x1="59.8" y1="361.1" x2="59.8" y2="364.1" stroke="#000" stroke-width="1.5"/>
<text x="62.6" y="370.4" font-size="9.3" text-anchor="end" transform="translate(62.6 370.4) rotate(-45) scale(1 1) translate(-62.6 -370.4)">5</text>
<line x1="76.1" y1="361.1" x2="76.1" y2="364.1" stroke="#000" stroke-width="1.5"/>
<text x="78.9" y="370.4" font-size="9.3" text-anchor="end" transform="translate(78.9 370.4) rotate(-45) scale(1 1) translate(-78.9 -370.4)">10</text>
<line x1="92.4" y1="361.1" x2="92.4" y2="364.1" stroke="#000" stroke-width="1.5"/>
<text x="95.2" y="370.4" font-size="9.3" text-anchor="end" transform="translate(95.2 370.4) rotate(-45) scale(1 1) translate(-95.2 -370.4)">15</text>
<line x1="108.8" y1="361.1" x2="108.8" y2="364.1" stroke="#000" stroke-width="1.5"/>
<text x="111.6" y="370.4" font-size="9.3" text-anchor="end" transform="translate(111.6 370.4) rotate(-45) scale(1 1) translate(-111.6 -370.4)">20</text>
<text x="74.5" y="300.6" font-size="9.4" text-anchor="middle" transform="translate(74.5 300.6) rotate(0.05) scale(1 1) translate(-74.5 -300.6)">IL-6</text>
<text x="73.4" y="389.6" font-size="9.6" text-anchor="middle" transform="translate(73.4 389.6) rotate(0.05) scale(1 1) translate(-73.4 -389.6)">ng/ml</text>
<rect x="129.1" y="296" width="2.4" height="15.9" fill="#000"/>
<line x1="131.5" y1="303.95" x2="132.5" y2="303.95" stroke="#000" stroke-width="1"/>
<line x1="132.5" y1="299.95" x2="132.5" y2="307.95" stroke="#000" stroke-width="1"/>
<rect x="129.1" y="318.6" width="33.3" height="15.8" fill="#000"/>
<line x1="162.4" y1="326.5" x2="176.6" y2="326.5" stroke="#000" stroke-width="1"/>
<line x1="176.6" y1="322.5" x2="176.6" y2="330.5" stroke="#000" stroke-width="1"/>
<rect x="129.1" y="341" width="12.7" height="16.1" fill="#000"/>
<line x1="141.8" y1="349.05" x2="144.1" y2="349.05" stroke="#000" stroke-width="1"/>
<line x1="144.1" y1="345.05" x2="144.1" y2="353.05" stroke="#000" stroke-width="1"/>
<line x1="129.1" y1="292" x2="129.1" y2="361.85" stroke="#000" stroke-width="1.5"/>
<line x1="128.35" y1="361.1" x2="194.25" y2="361.1" stroke="#000" stroke-width="1.5"/>
<line x1="129.1" y1="361.1" x2="129.1" y2="364.1" stroke="#000" stroke-width="1.5"/>
<text x="131.9" y="370.4" font-size="9.3" text-anchor="end" transform="translate(131.9 370.4) rotate(-45) scale(1 1) translate(-131.9 -370.4)">0</text>
<line x1="145.6" y1="361.1" x2="145.6" y2="364.1" stroke="#000" stroke-width="1.5"/>
<text x="148.4" y="370.4" font-size="9.3" text-anchor="end" transform="translate(148.4 370.4) rotate(-45) scale(1 1) translate(-148.4 -370.4)">100</text>
<line x1="161.6" y1="361.1" x2="161.6" y2="364.1" stroke="#000" stroke-width="1.5"/>
<text x="164.4" y="370.4" font-size="9.3" text-anchor="end" transform="translate(164.4 370.4) rotate(-45) scale(1 1) translate(-164.4 -370.4)">200</text>
<line x1="177.6" y1="361.1" x2="177.6" y2="364.1" stroke="#000" stroke-width="1.5"/>
<text x="180.4" y="370.4" font-size="9.3" text-anchor="end" transform="translate(180.4 370.4) rotate(-45) scale(1 1) translate(-180.4 -370.4)">300</text>
<line x1="193.5" y1="361.1" x2="193.5" y2="364.1" stroke="#000" stroke-width="1.5"/>
<text x="196.3" y="370.4" font-size="9.3" text-anchor="end" transform="translate(196.3 370.4) rotate(-45) scale(1 1) translate(-196.3 -370.4)">400</text>
<text x="161.3" y="300.6" font-size="9.4" text-anchor="middle" transform="translate(161.3 300.6) rotate(0.05) scale(1 1) translate(-161.3 -300.6)">IL-10</text>
<text x="156" y="389.6" font-size="9.6" text-anchor="middle" transform="translate(156 389.6) rotate(0.05) scale(1 1) translate(-156 -389.6)">pg/ml</text>
<rect x="218" y="296" width="5.6" height="15.9" fill="#000"/>
<line x1="223.6" y1="303.95" x2="225.5" y2="303.95" stroke="#000" stroke-width="1"/>
<line x1="225.5" y1="299.95" x2="225.5" y2="307.95" stroke="#000" stroke-width="1"/>
<rect x="218" y="318.6" width="36.8" height="15.8" fill="#000"/>
<line x1="254.8" y1="326.5" x2="261.1" y2="326.5" stroke="#000" stroke-width="1"/>
<line x1="261.1" y1="322.5" x2="261.1" y2="330.5" stroke="#000" stroke-width="1"/>
<rect x="218" y="341" width="39.7" height="16.1" fill="#000"/>
<line x1="257.7" y1="349.05" x2="269.3" y2="349.05" stroke="#000" stroke-width="1"/>
<line x1="269.3" y1="345.05" x2="269.3" y2="353.05" stroke="#000" stroke-width="1"/>
<line x1="218" y1="292" x2="218" y2="361.85" stroke="#000" stroke-width="1.5"/>
<line x1="217.25" y1="361.1" x2="284.25" y2="361.1" stroke="#000" stroke-width="1.5"/>
<line x1="218" y1="361.1" x2="218" y2="364.1" stroke="#000" stroke-width="1.5"/>
<text x="220.8" y="370.4" font-size="9.3" text-anchor="end" transform="translate(220.8 370.4) rotate(-45) scale(1 1) translate(-220.8 -370.4)">0</text>
<line x1="231.1" y1="361.1" x2="231.1" y2="364.1" stroke="#000" stroke-width="1.5"/>
<text x="233.9" y="370.4" font-size="9.3" text-anchor="end" transform="translate(233.9 370.4) rotate(-45) scale(1 1) translate(-233.9 -370.4)">20</text>
<line x1="244.2" y1="361.1" x2="244.2" y2="364.1" stroke="#000" stroke-width="1.5"/>
<text x="247" y="370.4" font-size="9.3" text-anchor="end" transform="translate(247 370.4) rotate(-45) scale(1 1) translate(-247 -370.4)">40</text>
<line x1="257.3" y1="361.1" x2="257.3" y2="364.1" stroke="#000" stroke-width="1.5"/>
<text x="260.1" y="370.4" font-size="9.3" text-anchor="end" transform="translate(260.1 370.4) rotate(-45) scale(1 1) translate(-260.1 -370.4)">60</text>
<line x1="270.4" y1="361.1" x2="270.4" y2="364.1" stroke="#000" stroke-width="1.5"/>
<text x="273.2" y="370.4" font-size="9.3" text-anchor="end" transform="translate(273.2 370.4) rotate(-45) scale(1 1) translate(-273.2 -370.4)">80</text>
<line x1="283.5" y1="361.1" x2="283.5" y2="364.1" stroke="#000" stroke-width="1.5"/>
<text x="286.3" y="370.4" font-size="9.3" text-anchor="end" transform="translate(286.3 370.4) rotate(-45) scale(1 1) translate(-286.3 -370.4)">100</text>
<text x="248.5" y="300.6" font-size="9.4" text-anchor="middle" transform="translate(248.5 300.6) rotate(0.05) scale(1 1) translate(-248.5 -300.6)">IL-12</text>
<text x="247.7" y="389.6" font-size="9.6" text-anchor="middle" transform="translate(247.7 389.6) rotate(0.05) scale(1 1) translate(-247.7 -389.6)">pg/ml</text>
<rect x="305.1" y="296" width="5.2" height="15.9" fill="#000"/>
<line x1="310.3" y1="303.95" x2="311.7" y2="303.95" stroke="#000" stroke-width="1"/>
<line x1="311.7" y1="299.95" x2="311.7" y2="307.95" stroke="#000" stroke-width="1"/>
<rect x="305.1" y="318.6" width="45.6" height="15.8" fill="#000"/>
<line x1="350.7" y1="326.5" x2="356.9" y2="326.5" stroke="#000" stroke-width="1"/>
<line x1="356.9" y1="322.5" x2="356.9" y2="330.5" stroke="#000" stroke-width="1"/>
<rect x="305.1" y="341" width="38.3" height="16.1" fill="#000"/>
<line x1="343.4" y1="349.05" x2="347.3" y2="349.05" stroke="#000" stroke-width="1"/>
<line x1="347.3" y1="345.05" x2="347.3" y2="353.05" stroke="#000" stroke-width="1"/>
<line x1="305.1" y1="292" x2="305.1" y2="361.85" stroke="#000" stroke-width="1.5"/>
<line x1="304.35" y1="361.1" x2="370.75" y2="361.1" stroke="#000" stroke-width="1.5"/>
<line x1="305.1" y1="361.1" x2="305.1" y2="364.1" stroke="#000" stroke-width="1.5"/>
<text x="307.9" y="370.4" font-size="9.3" text-anchor="end" transform="translate(307.9 370.4) rotate(-45) scale(1 1) translate(-307.9 -370.4)">0</text>
<line x1="318.1" y1="361.1" x2="318.1" y2="364.1" stroke="#000" stroke-width="1.5"/>
<text x="320.9" y="370.4" font-size="9.3" text-anchor="end" transform="translate(320.9 370.4) rotate(-45) scale(1 1) translate(-320.9 -370.4)">1</text>
<line x1="331.1" y1="361.1" x2="331.1" y2="364.1" stroke="#000" stroke-width="1.5"/>
<text x="333.9" y="370.4" font-size="9.3" text-anchor="end" transform="translate(333.9 370.4) rotate(-45) scale(1 1) translate(-333.9 -370.4)">2</text>
<line x1="344" y1="361.1" x2="344" y2="364.1" stroke="#000" stroke-width="1.5"/>
<text x="346.8" y="370.4" font-size="9.3" text-anchor="end" transform="translate(346.8 370.4) rotate(-45) scale(1 1) translate(-346.8 -370.4)">3</text>
<line x1="357" y1="361.1" x2="357" y2="364.1" stroke="#000" stroke-width="1.5"/>
<text x="359.8" y="370.4" font-size="9.3" text-anchor="end" transform="translate(359.8 370.4) rotate(-45) scale(1 1) translate(-359.8 -370.4)">4</text>
<line x1="370" y1="361.1" x2="370" y2="364.1" stroke="#000" stroke-width="1.5"/>
<text x="372.8" y="370.4" font-size="9.3" text-anchor="end" transform="translate(372.8 370.4) rotate(-45) scale(1 1) translate(-372.8 -370.4)">5</text>
<text x="336.5" y="300.6" font-size="9.4" text-anchor="middle" transform="translate(336.5 300.6) rotate(0.05) scale(1 1) translate(-336.5 -300.6)">TNF&#945;</text>
<text x="333.4" y="389.6" font-size="9.6" text-anchor="middle" transform="translate(333.4 389.6) rotate(0.05) scale(1 1) translate(-333.4 -389.6)">ng/ml</text>
<text x="36.4" y="306.6" font-size="9.6" text-anchor="middle" transform="translate(36.4 306.6) rotate(0.05) scale(1 1) translate(-36.4 -306.6)">-</text>
<text x="39" y="329.6" font-size="9.6" text-anchor="end" transform="translate(39 329.6) rotate(0.05) scale(1 1) translate(-39 -329.6)">LPS</text>
<text x="22.6" y="347.6" font-size="9.6" text-anchor="middle" transform="translate(22.6 347.6) rotate(0.05) scale(1 1) translate(-22.6 -347.6)">LPS+</text>
<text x="23.6" y="358" font-size="9.6" text-anchor="middle" transform="translate(23.6 358) rotate(0.05) scale(1 1) translate(-23.6 -358)">SEITU</text>
<rect x="403" y="142.6" width="93.5" height="71.7" fill="none" stroke="#606060" stroke-width="1.1"/>
<rect x="403" y="221.6" width="93.5" height="70.6" fill="none" stroke="#606060" stroke-width="1.1"/>
<line x1="400.7" y1="214.3" x2="403" y2="214.3" stroke="#000" stroke-width="0.7" stroke-opacity="0.45"/>
<line x1="400.7" y1="211.22" x2="403" y2="211.22" stroke="#000" stroke-width="0.7" stroke-opacity="0.45"/>
<line x1="400.7" y1="208.14" x2="403" y2="208.14" stroke="#000" stroke-width="0.7" stroke-opacity="0.45"/>
<line x1="400.7" y1="205.06" x2="403" y2="205.06" stroke="#000" stroke-width="0.7" stroke-opacity="0.45"/>
<line x1="400.7" y1="201.98" x2="403" y2="201.98" stroke="#000" stroke-width="0.7" stroke-opacity="0.45"/>
<line x1="400.7" y1="198.9" x2="403" y2="198.9" stroke="#000" stroke-width="0.7" stroke-opacity="0.45"/>
<line x1="400.7" y1="195.82" x2="403" y2="195.82" stroke="#000" stroke-width="0.7" stroke-opacity="0.45"/>
<line x1="400.7" y1="192.74" x2="403" y2="192.74" stroke="#000" stroke-width="0.7" stroke-opacity="0.45"/>
<line x1="400.7" y1="189.66" x2="403" y2="189.66" stroke="#000" stroke-width="0.7" stroke-opacity="0.45"/>
<line x1="400.7" y1="186.58" x2="403" y2="186.58" stroke="#000" stroke-width="0.7" stroke-opacity="0.45"/>
<line x1="400.7" y1="183.5" x2="403" y2="183.5" stroke="#000" stroke-width="0.7" stroke-opacity="0.45"/>
<line x1="400.7" y1="180.42" x2="403" y2="180.42" stroke="#000" stroke-width="0.7" stroke-opacity="0.45"/>
<line x1="400.7" y1="177.34" x2="403" y2="177.34" stroke="#000" stroke-width="0.7" stroke-opacity="0.45"/>
<line x1="400.7" y1="174.26" x2="403" y2="174.26" stroke="#000" stroke-width="0.7" stroke-opacity="0.45"/>
<line x1="400.7" y1="171.18" x2="403" y2="171.18" stroke="#000" stroke-width="0.7" stroke-opacity="0.45"/>
<line x1="400.7" y1="168.1" x2="403" y2="168.1" stroke="#000" stroke-width="0.7" stroke-opacity="0.45"/>
<line x1="400.7" y1="165.02" x2="403" y2="165.02" stroke="#000" stroke-width="0.7" stroke-opacity="0.45"/>
<line x1="400.7" y1="161.94" x2="403" y2="161.94" stroke="#000" stroke-width="0.7" stroke-opacity="0.45"/>
<line x1="400.7" y1="158.86" x2="403" y2="158.86" stroke="#000" stroke-width="0.7" stroke-opacity="0.45"/>
<line x1="400.7" y1="155.78" x2="403" y2="155.78" stroke="#000" stroke-width="0.7" stroke-opacity="0.45"/>
<line x1="400.7" y1="152.7" x2="403" y2="152.7" stroke="#000" stroke-width="0.7" stroke-opacity="0.45"/>
<line x1="400.7" y1="149.62" x2="403" y2="149.62" stroke="#000" stroke-width="0.7" stroke-opacity="0.45"/>
<line x1="400.7" y1="146.54" x2="403" y2="146.54" stroke="#000" stroke-width="0.7" stroke-opacity="0.45"/>
<line x1="403" y1="214.3" x2="403" y2="215.9" stroke="#000" stroke-width="0.6" stroke-opacity="0.4"/>
<line x1="426.4" y1="214.3" x2="426.4" y2="215.9" stroke="#000" stroke-width="0.6" stroke-opacity="0.4"/>
<line x1="449.8" y1="214.3" x2="449.8" y2="215.9" stroke="#000" stroke-width="0.6" stroke-opacity="0.4"/>
<line x1="473.2" y1="214.3" x2="473.2" y2="215.9" stroke="#000" stroke-width="0.6" stroke-opacity="0.4"/>
<line x1="410.02" y1="214.3" x2="410.02" y2="215.9" stroke="#000" stroke-width="0.6" stroke-opacity="0.4"/>
<line x1="433.42" y1="214.3" x2="433.42" y2="215.9" stroke="#000" stroke-width="0.6" stroke-opacity="0.4"/>
<line x1="456.82" y1="214.3" x2="456.82" y2="215.9" stroke="#000" stroke-width="0.6" stroke-opacity="0.4"/>
<line x1="480.22" y1="214.3" x2="480.22" y2="215.9" stroke="#000" stroke-width="0.6" stroke-opacity="0.4"/>
<line x1="414.232" y1="214.3" x2="414.232" y2="215.9" stroke="#000" stroke-width="0.6" stroke-opacity="0.4"/>
<line x1="437.632" y1="214.3" x2="437.632" y2="215.9" stroke="#000" stroke-width="0.6" stroke-opacity="0.4"/>
<line x1="461.032" y1="214.3" x2="461.032" y2="215.9" stroke="#000" stroke-width="0.6" stroke-opacity="0.4"/>
<line x1="484.432" y1="214.3" x2="484.432" y2="215.9" stroke="#000" stroke-width="0.6" stroke-opacity="0.4"/>
<line x1="417.04" y1="214.3" x2="417.04" y2="215.9" stroke="#000" stroke-width="0.6" stroke-opacity="0.4"/>
<line x1="440.44" y1="214.3" x2="440.44" y2="215.9" stroke="#000" stroke-width="0.6" stroke-opacity="0.4"/>
<line x1="463.84" y1="214.3" x2="463.84" y2="215.9" stroke="#000" stroke-width="0.6" stroke-opacity="0.4"/>
<line x1="487.24" y1="214.3" x2="487.24" y2="215.9" stroke="#000" stroke-width="0.6" stroke-opacity="0.4"/>
<line x1="419.38" y1="214.3" x2="419.38" y2="215.9" stroke="#000" stroke-width="0.6" stroke-opacity="0.4"/>
<line x1="442.78" y1="214.3" x2="442.78" y2="215.9" stroke="#000" stroke-width="0.6" stroke-opacity="0.4"/>
<line x1="466.18" y1="214.3" x2="466.18" y2="215.9" stroke="#000" stroke-width="0.6" stroke-opacity="0.4"/>
<line x1="489.58" y1="214.3" x2="489.58" y2="215.9" stroke="#000" stroke-width="0.6" stroke-opacity="0.4"/>
<line x1="421.252" y1="214.3" x2="421.252" y2="215.9" stroke="#000" stroke-width="0.6" stroke-opacity="0.4"/>
<line x1="444.652" y1="214.3" x2="444.652" y2="215.9" stroke="#000" stroke-width="0.6" stroke-opacity="0.4"/>
<line x1="468.052" y1="214.3" x2="468.052" y2="215.9" stroke="#000" stroke-width="0.6" stroke-opacity="0.4"/>
<line x1="491.452" y1="214.3" x2="491.452" y2="215.9" stroke="#000" stroke-width="0.6" stroke-opacity="0.4"/>
<line x1="422.89" y1="214.3" x2="422.89" y2="215.9" stroke="#000" stroke-width="0.6" stroke-opacity="0.4"/>
<line x1="446.29" y1="214.3" x2="446.29" y2="215.9" stroke="#000" stroke-width="0.6" stroke-opacity="0.4"/>
<line x1="469.69" y1="214.3" x2="469.69" y2="215.9" stroke="#000" stroke-width="0.6" stroke-opacity="0.4"/>
<line x1="493.09" y1="214.3" x2="493.09" y2="215.9" stroke="#000" stroke-width="0.6" stroke-opacity="0.4"/>
<line x1="424.06" y1="214.3" x2="424.06" y2="215.9" stroke="#000" stroke-width="0.6" stroke-opacity="0.4"/>
<line x1="447.46" y1="214.3" x2="447.46" y2="215.9" stroke="#000" stroke-width="0.6" stroke-opacity="0.4"/>
<line x1="470.86" y1="214.3" x2="470.86" y2="215.9" stroke="#000" stroke-width="0.6" stroke-opacity="0.4"/>
<line x1="494.26" y1="214.3" x2="494.26" y2="215.9" stroke="#000" stroke-width="0.6" stroke-opacity="0.4"/>
<line x1="425.23" y1="214.3" x2="425.23" y2="215.9" stroke="#000" stroke-width="0.6" stroke-opacity="0.4"/>
<line x1="448.63" y1="214.3" x2="448.63" y2="215.9" stroke="#000" stroke-width="0.6" stroke-opacity="0.4"/>
<line x1="472.03" y1="214.3" x2="472.03" y2="215.9" stroke="#000" stroke-width="0.6" stroke-opacity="0.4"/>
<line x1="495.43" y1="214.3" x2="495.43" y2="215.9" stroke="#000" stroke-width="0.6" stroke-opacity="0.4"/>
<line x1="400.7" y1="292.2" x2="403" y2="292.2" stroke="#000" stroke-width="0.7" stroke-opacity="0.45"/>
<line x1="400.7" y1="289.12" x2="403" y2="289.12" stroke="#000" stroke-width="0.7" stroke-opacity="0.45"/>
<line x1="400.7" y1="286.04" x2="403" y2="286.04" stroke="#000" stroke-width="0.7" stroke-opacity="0.45"/>
<line x1="400.7" y1="282.96" x2="403" y2="282.96" stroke="#000" stroke-width="0.7" stroke-opacity="0.45"/>
<line x1="400.7" y1="279.88" x2="403" y2="279.88" stroke="#000" stroke-width="0.7" stroke-opacity="0.45"/>
<line x1="400.7" y1="276.8" x2="403" y2="276.8" stroke="#000" stroke-width="0.7" stroke-opacity="0.45"/>
<line x1="400.7" y1="273.72" x2="403" y2="273.72" stroke="#000" stroke-width="0.7" stroke-opacity="0.45"/>
<line x1="400.7" y1="270.64" x2="403" y2="270.64" stroke="#000" stroke-width="0.7" stroke-opacity="0.45"/>
<line x1="400.7" y1="267.56" x2="403" y2="267.56" stroke="#000" stroke-width="0.7" stroke-opacity="0.45"/>
<line x1="400.7" y1="264.48" x2="403" y2="264.48" stroke="#000" stroke-width="0.7" stroke-opacity="0.45"/>
<line x1="400.7" y1="261.4" x2="403" y2="261.4" stroke="#000" stroke-width="0.7" stroke-opacity="0.45"/>
<line x1="400.7" y1="258.32" x2="403" y2="258.32" stroke="#000" stroke-width="0.7" stroke-opacity="0.45"/>
<line x1="400.7" y1="255.24" x2="403" y2="255.24" stroke="#000" stroke-width="0.7" stroke-opacity="0.45"/>
<line x1="400.7" y1="252.16" x2="403" y2="252.16" stroke="#000" stroke-width="0.7" stroke-opacity="0.45"/>
<line x1="400.7" y1="249.08" x2="403" y2="249.08" stroke="#000" stroke-width="0.7" stroke-opacity="0.45"/>
<line x1="400.7" y1="246" x2="403" y2="246" stroke="#000" stroke-width="0.7" stroke-opacity="0.45"/>
<line x1="400.7" y1="242.92" x2="403" y2="242.92" stroke="#000" stroke-width="0.7" stroke-opacity="0.45"/>
<line x1="400.7" y1="239.84" x2="403" y2="239.84" stroke="#000" stroke-width="0.7" stroke-opacity="0.45"/>
<line x1="400.7" y1="236.76" x2="403" y2="236.76" stroke="#000" stroke-width="0.7" stroke-opacity="0.45"/>
<line x1="400.7" y1="233.68" x2="403" y2="233.68" stroke="#000" stroke-width="0.7" stroke-opacity="0.45"/>
<line x1="400.7" y1="230.6" x2="403" y2="230.6" stroke="#000" stroke-width="0.7" stroke-opacity="0.45"/>
<line x1="400.7" y1="227.52" x2="403" y2="227.52" stroke="#000" stroke-width="0.7" stroke-opacity="0.45"/>
<line x1="400.7" y1="224.44" x2="403" y2="224.44" stroke="#000" stroke-width="0.7" stroke-opacity="0.45"/>
<line x1="403" y1="292.2" x2="403" y2="293.8" stroke="#000" stroke-width="0.6" stroke-opacity="0.4"/>
<line x1="426.4" y1="292.2" x2="426.4" y2="293.8" stroke="#000" stroke-width="0.6" stroke-opacity="0.4"/>
<line x1="449.8" y1="292.2" x2="449.8" y2="293.8" stroke="#000" stroke-width="0.6" stroke-opacity="0.4"/>
<line x1="473.2" y1="292.2" x2="473.2" y2="293.8" stroke="#000" stroke-width="0.6" stroke-opacity="0.4"/>
<line x1="410.02" y1="292.2" x2="410.02" y2="293.8" stroke="#000" stroke-width="0.6" stroke-opacity="0.4"/>
<line x1="433.42" y1="292.2" x2="433.42" y2="293.8" stroke="#000" stroke-width="0.6" stroke-opacity="0.4"/>
<line x1="456.82" y1="292.2" x2="456.82" y2="293.8" stroke="#000" stroke-width="0.6" stroke-opacity="0.4"/>
<line x1="480.22" y1="292.2" x2="480.22" y2="293.8" stroke="#000" stroke-width="0.6" stroke-opacity="0.4"/>
<line x1="414.232" y1="292.2" x2="414.232" y2="293.8" stroke="#000" stroke-width="0.6" stroke-opacity="0.4"/>
<line x1="437.632" y1="292.2" x2="437.632" y2="293.8" stroke="#000" stroke-width="0.6" stroke-opacity="0.4"/>
<line x1="461.032" y1="292.2" x2="461.032" y2="293.8" stroke="#000" stroke-width="0.6" stroke-opacity="0.4"/>
<line x1="484.432" y1="292.2" x2="484.432" y2="293.8" stroke="#000" stroke-width="0.6" stroke-opacity="0.4"/>
<line x1="417.04" y1="292.2" x2="417.04" y2="293.8" stroke="#000" stroke-width="0.6" stroke-opacity="0.4"/>
<line x1="440.44" y1="292.2" x2="440.44" y2="293.8" stroke="#000" stroke-width="0.6" stroke-opacity="0.4"/>
<line x1="463.84" y1="292.2" x2="463.84" y2="293.8" stroke="#000" stroke-width="0.6" stroke-opacity="0.4"/>
<line x1="487.24" y1="292.2" x2="487.24" y2="293.8" stroke="#000" stroke-width="0.6" stroke-opacity="0.4"/>
<line x1="419.38" y1="292.2" x2="419.38" y2="293.8" stroke="#000" stroke-width="0.6" stroke-opacity="0.4"/>
<line x1="442.78" y1="292.2" x2="442.78" y2="293.8" stroke="#000" stroke-width="0.6" stroke-opacity="0.4"/>
<line x1="466.18" y1="292.2" x2="466.18" y2="293.8" stroke="#000" stroke-width="0.6" stroke-opacity="0.4"/>
<line x1="489.58" y1="292.2" x2="489.58" y2="293.8" stroke="#000" stroke-width="0.6" stroke-opacity="0.4"/>
<line x1="421.252" y1="292.2" x2="421.252" y2="293.8" stroke="#000" stroke-width="0.6" stroke-opacity="0.4"/>
<line x1="444.652" y1="292.2" x2="444.652" y2="293.8" stroke="#000" stroke-width="0.6" stroke-opacity="0.4"/>
<line x1="468.052" y1="292.2" x2="468.052" y2="293.8" stroke="#000" stroke-width="0.6" stroke-opacity="0.4"/>
<line x1="491.452" y1="292.2" x2="491.452" y2="293.8" stroke="#000" stroke-width="0.6" stroke-opacity="0.4"/>
<line x1="422.89" y1="292.2" x2="422.89" y2="293.8" stroke="#000" stroke-width="0.6" stroke-opacity="0.4"/>
<line x1="446.29" y1="292.2" x2="446.29" y2="293.8" stroke="#000" stroke-width="0.6" stroke-opacity="0.4"/>
<line x1="469.69" y1="292.2" x2="469.69" y2="293.8" stroke="#000" stroke-width="0.6" stroke-opacity="0.4"/>
<line x1="493.09" y1="292.2" x2="493.09" y2="293.8" stroke="#000" stroke-width="0.6" stroke-opacity="0.4"/>
<line x1="424.06" y1="292.2" x2="424.06" y2="293.8" stroke="#000" stroke-width="0.6" stroke-opacity="0.4"/>
<line x1="447.46" y1="292.2" x2="447.46" y2="293.8" stroke="#000" stroke-width="0.6" stroke-opacity="0.4"/>
<line x1="470.86" y1="292.2" x2="470.86" y2="293.8" stroke="#000" stroke-width="0.6" stroke-opacity="0.4"/>
<line x1="494.26" y1="292.2" x2="494.26" y2="293.8" stroke="#000" stroke-width="0.6" stroke-opacity="0.4"/>
<line x1="425.23" y1="292.2" x2="425.23" y2="293.8" stroke="#000" stroke-width="0.6" stroke-opacity="0.4"/>
<line x1="448.63" y1="292.2" x2="448.63" y2="293.8" stroke="#000" stroke-width="0.6" stroke-opacity="0.4"/>
<line x1="472.03" y1="292.2" x2="472.03" y2="293.8" stroke="#000" stroke-width="0.6" stroke-opacity="0.4"/>
<line x1="495.43" y1="292.2" x2="495.43" y2="293.8" stroke="#000" stroke-width="0.6" stroke-opacity="0.4"/>
<text x="394.8" y="220.4" font-size="9.6" text-anchor="middle" transform="translate(394.8 220.4) rotate(-90) scale(1 1) translate(-394.8 -220.4)">% of max</text>
<line x1="393.3" y1="146" x2="393.3" y2="193.6" stroke="#000" stroke-width="1"/>
<line x1="393.3" y1="245.4" x2="393.3" y2="292.8" stroke="#000" stroke-width="1"/>
<text x="449.8" y="304.4" font-size="9.6" text-anchor="middle" transform="translate(449.8 304.4) rotate(0.05) scale(1 1) translate(-449.8 -304.4)">CFSE</text>
<line x1="403.2" y1="301" x2="434.2" y2="301" stroke="#000" stroke-width="1.1"/>
<line x1="465" y1="301" x2="495.6" y2="301" stroke="#000" stroke-width="1.1"/>
<text x="493.6" y="158.4" font-size="9.4" text-anchor="end" transform="translate(493.6 158.4) rotate(0.05) scale(1 1) translate(-493.6 -158.4)">OT-II</text>
<text x="490.6" y="234.8" font-size="9.4" text-anchor="end" transform="translate(490.6 234.8) rotate(0.05) scale(1 1) translate(-490.6 -234.8)">OT-I</text>
<polygon points="461,214.2 462.4,208 464,198 465.4,184 466.4,168 467.2,152 467.8,146.8 468.4,152 469.2,168 470.4,186 472,202 474,210 476.4,213.8 476.4,214.2" fill="#909090" stroke="#909090" stroke-width="0.5"/>
<polyline points="402,214 410,213.9 413.6,213.5 416.4,212.4 419.4,210.5 421.4,208.6 423.2,206.2 424.8,203 426.2,199.6 427.2,195.6 428,192.4 429,188.6 430.2,185.6 431.4,181.6 432.4,177.6 433.2,174 433.8,170 434.4,172 435,166 435.6,167.6 436.2,162.4 436.8,164 437.4,158.8 438,160 438.6,154.8 439.2,156 439.8,150 440.6,148.4 441.8,147.6 443,148 443.8,151.2 444.2,157.2 444.6,162.4 445,165.2 445.4,160.8 446,155.6 446.8,151.2 447.8,149.2 448.8,150 449.4,154.8 450,160.8 450.8,166 451.6,169.6 452.8,173.2 454.4,177.6 456,182.4 457.6,187.2 459.4,191.6 461,193.6 462.4,194.4 464,193.2 465.6,187.2 466.6,176.4 467.6,166.4 468.4,163.6 469.4,166.4 470.4,176.4 471.6,188.4 473,200.4 474.6,208.2 477,212.2 480,213.6 496,214" fill="none" stroke="#000" stroke-width="1.7" stroke-linejoin="round" stroke-linecap="butt" stroke-dasharray="1.8 1.3"/>
<polyline points="402,214 410,213.9 413.6,213.5 416.4,212.4 419.4,210.4 421.4,208.4 423.2,206 424.8,202.6 426.2,199.2 427,195 427.6,191.4 428.8,188 430,184.6 431.2,180.6 432.1,176.4 433.4,170.4 434.34,165.6 435.32,161.4 435.8,162.4 436.48,157.5 437.06,154.6 437.54,156.06 438.22,152.68 439.18,148.8 439.6,151.6 440,148 440.6,150 441.2,147 441.8,149.2 442.4,146.6 443.2,148.8 443.8,147.4 444.3,150.2 444.7,152.8 445.18,154.12 446.14,152.68 446.8,150 447.4,148.32 448,149.2 448.66,147.84 449.44,149.78 449.62,152.68 450.02,157.5 450.6,162.34 451.56,167.18 452.72,169.12 454.18,170.56 455.42,173.96 456.58,177.34 457.56,181 459.6,186.4 461,191 462.4,193.6 464,193 465.6,187 466.6,176 467.6,166 468.4,163.2 469.4,166 470.4,176 471.6,188 473,200 474.6,208 477,212 480,213.6 496,214" fill="none" stroke="#000" stroke-width="1.7" stroke-linejoin="round" stroke-linecap="butt"/>
<polygon points="458,292.2 459.6,287 461,280 462.4,270 463.6,258 464.4,244 465,230 465.4,225.6 466,232 466.8,244 467.6,258 468.4,272 469.6,284 471,290 472.4,292 472.4,292.2" fill="#909090" stroke="#909090" stroke-width="0.5"/>
<polyline points="402,292 408,291.8 409.6,291.2 411.6,289.2 414.4,285 416.8,279.2 418.6,271.4 419.8,264.6 420.8,259 421.6,252 422.8,243 424.2,234 425.3,228.4 426.24,226.64 427.9,226.36 429.34,227.32 430.5,229.74 431.76,233.6 433.22,237.96 435.14,242.8 437.56,246.4 439.02,251 440.96,256.82 442.4,260.4 444,266 446,270.4 448,275 450,279 452,283 454,286 456,288 458,288.4 460,287.6 462,286 464,284.4 466,283 467.6,284 469,287 470.4,290 473,291.6 478,292 496,292" fill="none" stroke="#000" stroke-width="1.7" stroke-linejoin="round" stroke-linecap="butt" stroke-dasharray="1.8 1.3"/>
<polyline points="402,292 409,291.8 410.6,291.2 412,290 413.6,287.8 416,283 418.4,276.2 420.8,269.4 422.2,264 423.2,259.4 424.6,251 426.4,242.4 427.9,236.5 429.34,233.12 430.8,231.68 432.06,232.16 433.22,230.22 433.98,233.42 434.96,230.22 435.82,228.28 436.88,230.7 438.04,227.8 438.82,226.06 439.4,228.78 439.78,232.64 440.18,236.5 440.96,240.4 441.54,233.2 442.3,237.96 443.36,240.86 444.62,241.82 445.6,245.22 446.56,250.04 447.52,251.02 448.5,248.6 449.46,253.44 451.1,259.6 453,265 455,269 457,272 459,275 461,275 462.4,271 463.6,264 464.6,254 465.6,244 466.6,241 467.6,241.6 468.6,246 469.6,258 470.6,272 471.6,282 473,288 475,291 478,292 496,292" fill="none" stroke="#000" stroke-width="1.5" stroke-linejoin="round" stroke-linecap="butt"/>
<rect x="392.6" y="318.9" width="13.6" height="6.3" fill="#8a8a8a" stroke="#2a2a2a" stroke-width="0.9"/>
<line x1="392.2" y1="333.9" x2="406.5" y2="333.9" stroke="#000" stroke-width="2"/>
<line x1="392.6" y1="345.6" x2="406.8" y2="345.6" stroke="#000" stroke-width="2.2" stroke-dasharray="2.5 1.3"/>
<text x="415.3" y="324.6" font-size="9.8" text-anchor="start" transform="translate(415.3 324.6) rotate(0.05) scale(1 1) translate(-415.3 -324.6)">WT DCs: LPS</text>
<text x="415.3" y="335.8" font-size="9.8" text-anchor="start" transform="translate(415.3 335.8) rotate(0.05) scale(1 1) translate(-415.3 -335.8)">WT DCs: LPS+OVA</text>
<text x="415.3" y="348" font-size="9.8" text-anchor="start" transform="translate(415.3 348) rotate(0.05) scale(1 1) translate(-415.3 -348)">iNOS-/- DCs: LPS+OVA</text>
</svg>
</body></html>
